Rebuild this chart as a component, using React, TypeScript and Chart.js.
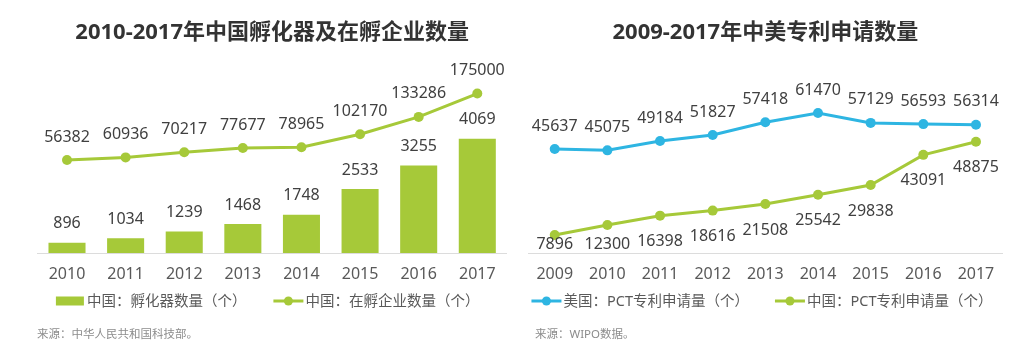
import React, { useEffect, useRef } from 'react';
import { Chart, registerables } from 'chart.js';

Chart.register(...registerables);

// ---------- data ----------
const incubatorYears = ['2010', '2011', '2012', '2013', '2014', '2015', '2016', '2017'];
const incubatorCounts = [896, 1034, 1239, 1468, 1748, 2533, 3255, 4069];
const incubatedFirmCounts = [56382, 60936, 70217, 77677, 78965, 102170, 133286, 175000];

const patentYears = ['2009', '2010', '2011', '2012', '2013', '2014', '2015', '2016', '2017'];
const usPctApplications = [45637, 45075, 49184, 51827, 57418, 61470, 57129, 56593, 56314];
const cnPctApplications = [7896, 12300, 16398, 18616, 21508, 25542, 29838, 43091, 48875];

const leftTitle = '2010-2017年中国孵化器及在孵企业数量';
const rightTitle = '2009-2017年中美专利申请数量';
const leftLegendTexts = ['中国：孵化器数量（个）', '中国：在孵企业数量（个）'];
const rightLegendTexts = ['美国：PCT专利申请量（个）', '中国：PCT专利申请量（个）'];
const leftSource = '来源：中华人民共和国科技部。';
const rightSource = '来源：WIPO数据。';

// axis ranges (hidden value axes)
const barAxisRange = [580, 6600];
const firmAxisRange = [-109800, 242000];
const patentAxisRange = [0, 86500];

// ---------- styles ----------
const FONT = '"Noto Sans", "Noto Sans CJK SC", sans-serif';
const GREEN = '#a6c939';
const BLUE = '#2eb5e2';
const LABEL_COLOR = '#404040';
const TICK_COLOR = '#595959';

type LegendItem = { text: string; kind: 'bar' | 'line'; color: string };
type OverlayCfg = {
  items: LegendItem[];
  legendDx: number;
  legendDy: number;
  itemGap: number;
  source: string;
  sourceDx: number;
  sourceDy: number;
};

function makeOverlayPlugin(cfg: OverlayCfg) {
  return {
    id: 'overlay',
    afterDatasetsDraw(chart: any) {
      const { ctx, chartArea } = chart;
      ctx.save();
      ctx.font = `16px ${FONT}`;
      ctx.fillStyle = LABEL_COLOR;
      ctx.textAlign = 'center';
      ctx.textBaseline = 'middle';
      chart.data.datasets.forEach((ds: any, i: number) => {
        const meta = chart.getDatasetMeta(i);
        const off = ds.labelOffset ?? -20;
        meta.data.forEach((el: any, j: number) => {
          let y = el.y + off;
          y = Math.min(y, chartArea.bottom - 9);
          ctx.fillText(String(ds.data[j]), el.x, y);
        });
      });
      ctx.restore();
    },
    afterDraw(chart: any) {
      const { ctx, chartArea } = chart;
      ctx.save();
      ctx.font = `14.5px ${FONT}`;
      ctx.textBaseline = 'middle';
      ctx.textAlign = 'left';
      const markerW = (k: string) => (k === 'bar' ? 28 : 30);
      const markerGap = (k: string) => (k === 'bar' ? 3 : 2);
      const widths = cfg.items.map(
        (it) => markerW(it.kind) + markerGap(it.kind) + ctx.measureText(it.text).width
      );
      const total = widths.reduce((a, b) => a + b, 0) + cfg.itemGap * (cfg.items.length - 1);
      let x = (chartArea.left + chartArea.right) / 2 + cfg.legendDx - total / 2;
      const y = chartArea.bottom + cfg.legendDy;
      cfg.items.forEach((it, i) => {
        const w = markerW(it.kind);
        ctx.fillStyle = it.color;
        ctx.strokeStyle = it.color;
        if (it.kind === 'bar') {
          ctx.fillRect(x, y - 4.5, w, 9);
        } else {
          ctx.lineWidth = 3;
          ctx.beginPath();
          ctx.moveTo(x, y);
          ctx.lineTo(x + w, y);
          ctx.stroke();
          ctx.beginPath();
          ctx.arc(x + w / 2, y, 4.5, 0, Math.PI * 2);
          ctx.fill();
        }
        ctx.fillStyle = TICK_COLOR;
        ctx.fillText(it.text, x + w + markerGap(it.kind), y + 1);
        x += widths[i] + cfg.itemGap;
      });
      ctx.font = `11.5px ${FONT}`;
      ctx.fillStyle = '#8c8c8c';
      ctx.fillText(cfg.source, chartArea.left + cfg.sourceDx, chartArea.bottom + cfg.sourceDy);
      ctx.restore();
    },
  };
}

function xAxis() {
  return {
    type: 'category' as const,
    offset: true,
    grid: { display: false, drawTicks: false },
    border: { display: true, color: '#dcdcdc', width: 1 },
    ticks: { color: TICK_COLOR, font: { size: 16, family: FONT }, padding: 11.4 },
    afterFit: (scale: any) => {
      scale.height = 30;
    },
  };
}

function titleOpts(text: string) {
  return {
    display: true,
    text,
    color: '#333333',
    font: { size: 22, weight: 'bold' as const, family: FONT, lineHeight: 1.2 },
    padding: { top: 19.8, bottom: 9.8 },
  };
}

function LeftChart() {
  const ref = useRef<HTMLCanvasElement>(null);
  useEffect(() => {
    const chart = new Chart(ref.current!, {
      type: 'bar',
      data: {
        labels: incubatorYears,
        datasets: [
          {
            type: 'line',
            label: leftLegendTexts[1],
            data: incubatedFirmCounts,
            yAxisID: 'yLine',
            borderColor: GREEN,
            backgroundColor: GREEN,
            borderWidth: 3,
            pointRadius: 5,
            pointBorderWidth: 0,
            pointBackgroundColor: GREEN,
            tension: 0,
            labelOffset: -23,
          } as any,
          {
            type: 'bar',
            label: leftLegendTexts[0],
            data: incubatorCounts,
            yAxisID: 'yBar',
            backgroundColor: GREEN,
            categoryPercentage: 0.8,
            barPercentage: 0.79,
            labelOffset: -19,
          } as any,
        ],
      },
      options: {
        responsive: false,
        animation: false,
        layout: { padding: { left: 37.7, right: 13.4, top: 0, bottom: 75 } },
        scales: {
          x: xAxis(),
          yBar: { display: false, min: barAxisRange[0], max: barAxisRange[1] },
          yLine: { display: false, min: firmAxisRange[0], max: firmAxisRange[1] },
        },
        plugins: {
          legend: { display: false },
          tooltip: { enabled: false },
          title: titleOpts(leftTitle),
        },
      } as any,
      plugins: [
        makeOverlayPlugin({
          items: [
            { text: leftLegendTexts[0], kind: 'bar', color: GREEN },
            { text: leftLegendTexts[1], kind: 'line', color: GREEN },
          ],
          legendDx: -4.5,
          legendDy: 48,
          itemGap: 27,
          source: leftSource,
          sourceDx: -0.7,
          sourceDy: 82,
        }),
      ],
    });
    return () => chart.destroy();
  }, []);
  return <canvas ref={ref} width={520} height={358} style={{ display: 'block' }} />;
}

function RightChart() {
  const ref = useRef<HTMLCanvasElement>(null);
  useEffect(() => {
    const chart = new Chart(ref.current!, {
      type: 'line',
      data: {
        labels: patentYears,
        datasets: [
          {
            label: rightLegendTexts[0],
            data: usPctApplications,
            borderColor: BLUE,
            backgroundColor: BLUE,
            borderWidth: 3,
            pointRadius: 5,
            pointBorderWidth: 0,
            pointBackgroundColor: BLUE,
            tension: 0,
            labelOffset: -23,
          } as any,
          {
            label: rightLegendTexts[1],
            data: cnPctApplications,
            borderColor: GREEN,
            backgroundColor: GREEN,
            borderWidth: 3,
            pointRadius: 5,
            pointBorderWidth: 0,
            pointBackgroundColor: GREEN,
            tension: 0,
            labelOffset: 26,
          } as any,
        ],
      },
      options: {
        responsive: false,
        animation: false,
        layout: { padding: { left: 8.4, right: 21.7, top: 0, bottom: 75 } },
        scales: {
          x: xAxis(),
          y: { display: false, min: patentAxisRange[0], max: patentAxisRange[1] },
        },
        plugins: {
          legend: { display: false },
          tooltip: { enabled: false },
          title: titleOpts(rightTitle),
        },
      } as any,
      plugins: [
        makeOverlayPlugin({
          items: [
            { text: rightLegendTexts[0], kind: 'line', color: BLUE },
            { text: rightLegendTexts[1], kind: 'line', color: GREEN },
          ],
          legendDx: -3.4,
          legendDy: 48,
          itemGap: 26,
          source: rightSource,
          sourceDx: 6.6,
          sourceDy: 82,
        }),
      ],
    });
    return () => chart.destroy();
  }, []);
  return <canvas ref={ref} width={504} height={358} style={{ display: 'block' }} />;
}

export default function App() {
  return (
    <div
      style={{
        position: 'fixed',
        left: 0,
        top: 0,
        width: 1024,
        height: 358,
        background: '#ffffff',
        display: 'flex',
        flexDirection: 'row',
        overflow: 'hidden',
      }}
    >
      <LeftChart />
      <RightChart />
    </div>
  );
}
